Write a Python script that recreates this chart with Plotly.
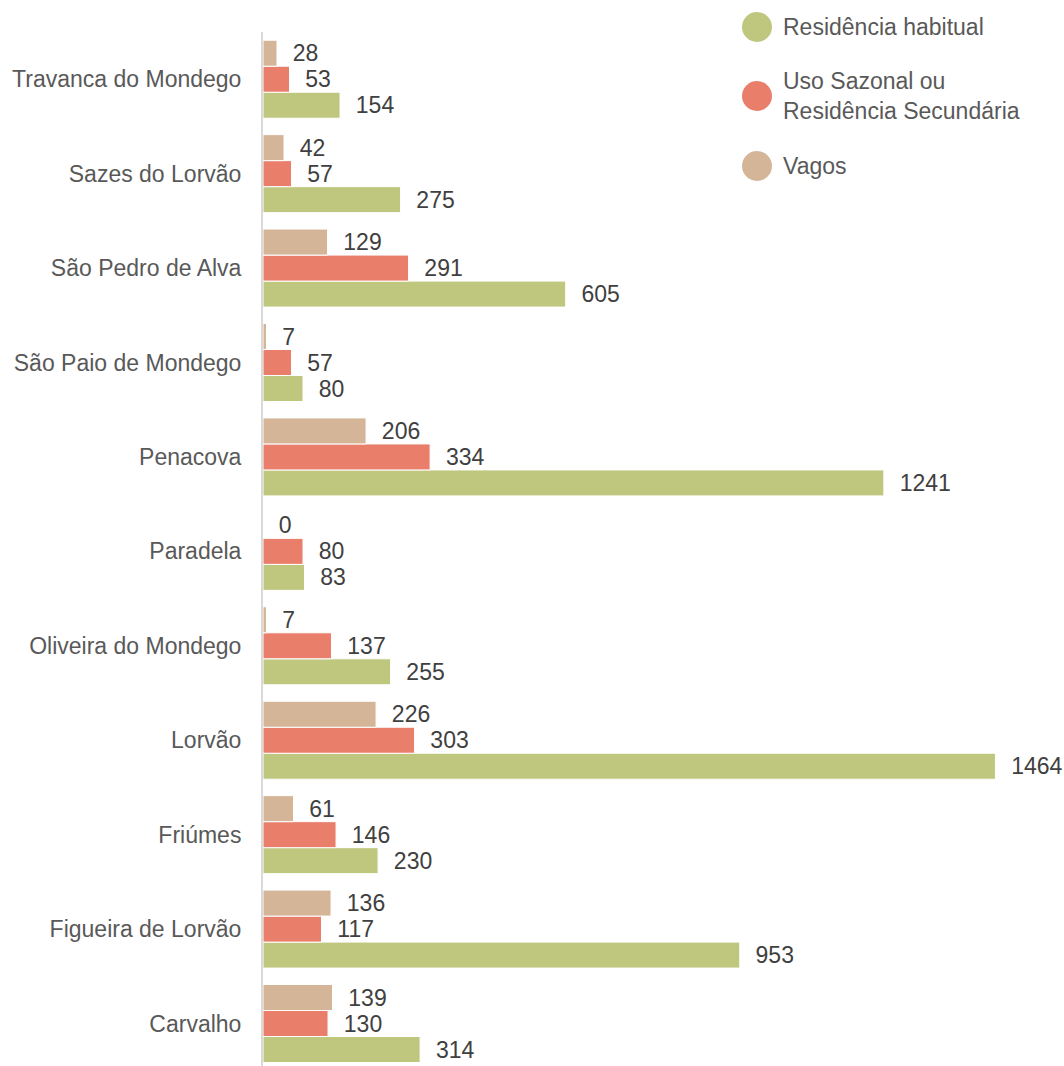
import plotly.graph_objects as go

# Freguesias listed bottom-to-top as they appear on the category axis
freguesias = [
    "Carvalho",
    "Figueira de Lorvão",
    "Friúmes",
    "Lorvão",
    "Oliveira do Mondego",
    "Paradela",
    "Penacova",
    "São Paio de Mondego",
    "São Pedro de Alva",
    "Sazes do Lorvão",
    "Travanca do Mondego",
]

residencia_habitual = [314, 953, 230, 1464, 255, 83, 1241, 80, 605, 275, 154]
uso_sazonal = [130, 117, 146, 303, 137, 80, 334, 57, 291, 57, 53]
vagos = [139, 136, 61, 226, 7, 0, 206, 7, 129, 42, 28]

series_names = ["Residência habitual", "Uso Sazonal ou<br>Residência Secundária", "Vagos"]
series_values = [residencia_habitual, uso_sazonal, vagos]
series_colors = ["#BFC77F", "#E97E6B", "#D4B598"]

FONT = "Liberation Sans, Arial, sans-serif"
FS = 23
W, H = 1064, 1066
M_L, M_R, M_T, M_B = 263, 0, 32, 0

fig = go.Figure()
for name, vals, col in zip(series_names, series_values, series_colors):
    fig.add_trace(go.Bar(
        y=freguesias,
        x=vals,
        orientation="h",
        name=name,
        marker=dict(color=col, line=dict(color="white", width=1)),
        text=vals,
        texttemplate="\u00a0\u00a0%{x}",
        textposition="outside",
        constraintext="none",
        cliponaxis=False,
        textfont=dict(family=FONT, size=FS, color="#404040"),
        showlegend=False,
    ))

fig.update_layout(
    width=W,
    height=H,
    margin=dict(l=M_L, r=M_R, t=M_T, b=M_B, pad=0),
    paper_bgcolor="white",
    plot_bgcolor="white",
    barmode="group",
    bargap=0.174,
    bargroupgap=0,
    font=dict(family=FONT, size=FS, color="#595959"),
    xaxis=dict(
        range=[0, 1601],
        visible=False,
        showgrid=False,
        zeroline=False,
    ),
    yaxis=dict(
        categoryorder="array",
        categoryarray=freguesias,
        range=[-0.45, 10.5],
        showline=True,
        linecolor="#D9D9D9",
        linewidth=2,
        showgrid=False,
        zeroline=False,
        ticks="",
        ticklabelstandoff=15,
        tickfont=dict(family=FONT, size=FS, color="#595959"),
    ),
)

# Legend drawn as circles with text labels, placed in pixel terms
plot_w = W - M_L - M_R
plot_h = H - M_T - M_B


def px_x(px):
    return (px - M_L) / plot_w


def px_y(py):
    return 1 - (py - M_T) / plot_h


legend_rows = [
    ("Residência habitual", series_colors[0], 27),
    ("Uso Sazonal ou<br>Residência Secundária", series_colors[1], 96),
    ("Vagos", series_colors[2], 166),
]
for label, col, cy in legend_rows:
    fig.add_shape(
        type="circle",
        xref="paper", yref="paper",
        xsizemode="pixel", ysizemode="pixel",
        xanchor=px_x(757), yanchor=px_y(cy),
        x0=-15, x1=15, y0=-15, y1=15,
        fillcolor=col,
        line=dict(width=0),
    )
    fig.add_annotation(
        text=label,
        xref="paper", yref="paper",
        x=px_x(781), y=px_y(cy),
        xanchor="left", yanchor="middle",
        align="left",
        showarrow=False,
        font=dict(family=FONT, size=FS, color="#595959"),
    )

fig.write_html("out.html")
